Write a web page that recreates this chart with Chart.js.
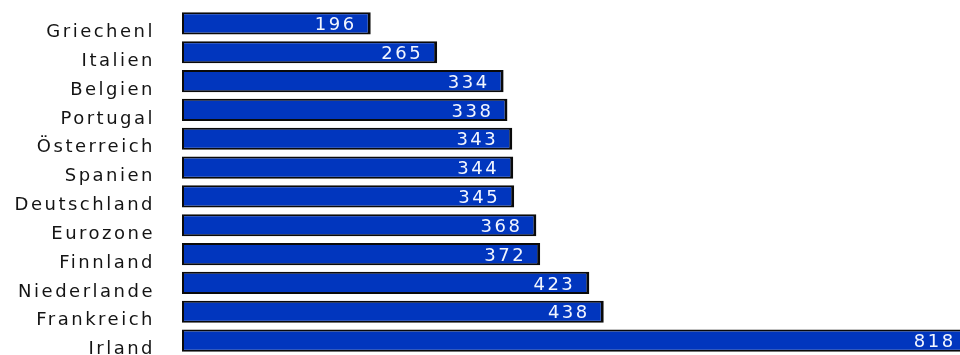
<!DOCTYPE html>
<html>
<head>
<meta charset="utf-8">
<script src="https://cdn.jsdelivr.net/npm/chart.js@4/dist/chart.umd.min.js"></script>
<style>
  html, body { margin: 0; padding: 0; background: #fff; }
  #wrap { width: 960px; height: 355px; position: relative; }
</style>
</head>
<body>
<div id="wrap"><canvas id="chart"></canvas></div>
<script>
// Data
const categories = [
  "Griechenl", "Italien", "Belgien", "Portugal", "Österreich", "Spanien",
  "Deutschland", "Eurozone", "Finnland", "Niederlande", "Frankreich", "Irland",
];
const values = [196, 265, 334, 338, 343, 344, 345, 368, 372, 423, 438, 818];

const BAR_BLUE = "#0136BE";
const BAR_EDGE = "#0A0A0A";

// The reference text is drawn wide, so spread the letters a bit
const spacingPlugin = {
  id: "spacing",
  beforeDraw(chart) {
    chart.ctx.letterSpacing = "2.5px";
  },
};

// White value labels at the inner right end of each bar
const valueLabels = {
  id: "valueLabels",
  afterDatasetsDraw(chart) {
    const ctx = chart.ctx;
    const meta = chart.getDatasetMeta(0);
    ctx.save();
    ctx.letterSpacing = "2.5px";
    ctx.font = "18px 'DejaVu Sans'";
    ctx.fillStyle = "#F2F6FF";
    ctx.textAlign = "right";
    ctx.textBaseline = "middle";
    meta.data.forEach((bar, i) => {
      ctx.fillText(String(values[i]), bar.x - 14, bar.y + 2);
    });
    ctx.restore();
  },
};

new Chart(document.getElementById("chart"), {
  type: "bar",
  data: {
    labels: categories,
    datasets: [
      {
        data: values,
        backgroundColor: BAR_BLUE,
        borderColor: BAR_EDGE,
        borderWidth: { top: 2, right: 3, bottom: 2, left: 2 },
        borderSkipped: false,
        barPercentage: 0.77,
        categoryPercentage: 1,
      },
    ],
  },
  options: {
    indexAxis: "y",
    responsive: true,
    maintainAspectRatio: false,
    animation: false,
    layout: { padding: { top: 9, right: 0, bottom: 0, left: 0 } },
    plugins: {
      legend: { display: false },
      tooltip: { enabled: false },
    },
    scales: {
      x: {
        display: false,
        min: 0,
        max: 808,
      },
      y: {
        afterFit: (scale) => {
          scale.width = 182;
          scale.paddingTop = 0;
          scale.paddingBottom = 0;
        },
        grid: {
          drawOnChartArea: false,
          color: "rgba(0,0,0,0)",
          tickLength: 27,
        },
        border: { display: false },
        ticks: {
          color: "#141414",
          padding: 0,
          labelOffset: 9,
          font: { family: "'DejaVu Sans'", size: 18 },
        },
      },
    },
  },
  plugins: [spacingPlugin, valueLabels],
});
</script>
</body>
</html>
